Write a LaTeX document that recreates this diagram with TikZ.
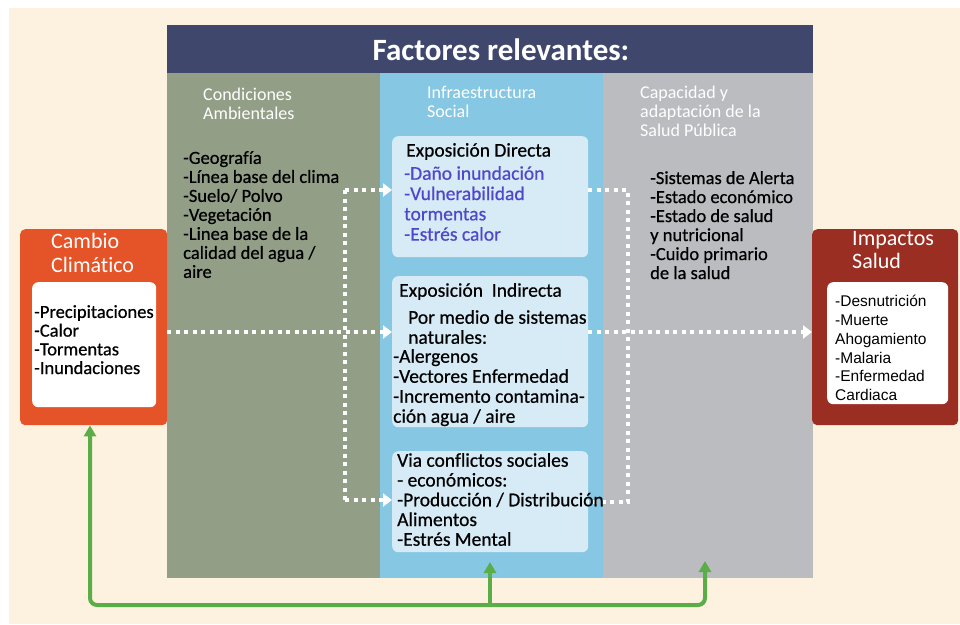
\documentclass[tikz,border=0pt]{standalone}
\usepackage{fontspec}
\setmainfont{Carlito}[Ligatures=NoCommon]
\newfontfamily\bodyf{Carlito}[Ligatures=NoCommon, FakeBold=0.6]
\newfontfamily\arialf{Liberation Sans}
\usetikzlibrary{arrows.meta}
\definecolor{cream}{HTML}{FDF1DF}
\definecolor{navy}{HTML}{3F476D}
\definecolor{colgreen}{HTML}{939E87}
\definecolor{colblue}{HTML}{86C7E3}
\definecolor{colgray}{HTML}{BBBCC0}
\definecolor{lightbox}{HTML}{D6EBF6}
\definecolor{ccorange}{HTML}{E55428}
\definecolor{impred}{HTML}{9A2E22}
\definecolor{arrgreen}{HTML}{5BAE47}
\definecolor{bluetext}{HTML}{4F46CC}
\tikzset{
  panel/.style={draw=none, inner sep=0pt, anchor=north west},
  txt/.style={anchor=north west, inner sep=0pt, align=left},
  listfont/.style={font=\bodyf\fontsize{18.5}{19}\selectfont},
  boxfont/.style={font=\bodyf\fontsize{19.5}{20}\selectfont},
  headfont/.style={font=\fontsize{18}{18.5}\selectfont},
  dotline/.style={white, line width=4pt, dash pattern=on 4pt off 4.5pt},
  dotarrow/.style={dotline, -{Triangle[length=9pt,width=13pt]}},
  gline/.style={arrgreen, line width=4pt},
  gtip/.tip={Triangle[length=11pt,width=12pt]}
}
\begin{document}
\begin{tikzpicture}[x=1pt,y=-1pt]
\useasboundingbox (0,0) rectangle (960,624);
\fill[white] (0,0) rectangle (960,624);
\fill[cream] (9,8) rectangle (960,624);

% columns
\node[panel, fill=colgreen, minimum width=213pt, minimum height=505pt] (col1) at (167,73) {};
\node[panel, fill=colblue, minimum width=223pt, minimum height=505pt] (col2) at (380,73) {};
\node[panel, fill=colgray, minimum width=210pt, minimum height=505pt] (col3) at (603,73) {};
\node[panel, fill=navy, minimum width=646pt, minimum height=48pt] (titlebar) at (167,25) {};
\node[white, font=\fontsize{31}{34}\selectfont\bfseries] (title) at (501,50) {Factores relevantes:};

% headers
\node[txt, white, headfont] (h1) at (203,88) {Condiciones\\Ambientales};
\node[txt, white, headfont] (h2) at (427,86) {Infraestructura\\Social};
\node[txt, white, font=\fontsize{18}{19}\selectfont] (h3) at (640,86) {Capacidad y\\adaptación de la\\Salud Pública};

% column lists
\node[txt, listfont] (l1) at (183,151) {-Geografía\\-Línea base del clima\\-Suelo/ Polvo\\-Vegetación\\-Linea base de la\\calidad del agua /\\aire};
\node[txt, listfont] (l3) at (650,171) {-Sistemas de Alerta\\-Estado económico\\-Estado de salud\\y nutricional\\-Cuido primario\\de la salud};

% junction points of the dotted connectors
\coordinate (jl) at (345,332);
\coordinate (jr) at (628,332);
\coordinate (lt) at (345,190);
\coordinate (lb) at (345,500);
\coordinate (rt) at (628,190);
\coordinate (rb) at (628,502);

% side boxes
\node[panel, fill=ccorange, rounded corners=5pt, minimum width=147pt, minimum height=196pt] (cc) at (20,229) {};
\node[panel, fill=white, rounded corners=6pt, minimum width=124pt, minimum height=125pt] (ccin) at (32,282) {};
\node[txt, white, font=\fontsize{22}{24}\selectfont] (cct) at (51,233) {Cambio\\Climático};
\node[txt, font=\bodyf\fontsize{18.5}{18.7}\selectfont] (ccl) at (34,305) {-Precipitaciones\\-Calor\\-Tormentas\\-Inundaciones};

\node[panel, fill=impred, rounded corners=5pt, minimum width=146pt, minimum height=196pt] (imp) at (812,229) {};
\node[panel, fill=white, rounded corners=6pt, minimum width=121pt, minimum height=122pt] (impin) at (827,282) {};
\node[txt, white, font=\fontsize{22}{23}\selectfont] (impt) at (852,231) {Impactos\\Salud};
\node[txt, font=\arialf\fontsize{15.5}{18.8}\selectfont] (impl) at (835,295) {-Desnutrición\\-Muerte\\Ahogamiento\\-Malaria\\-Enfermedad\\Cardiaca};

% centre boxes
\node[panel, fill=lightbox, rounded corners=6pt, minimum width=196pt, minimum height=121pt] (b1) at (392,136) {};
\node[panel, fill=lightbox, rounded corners=6pt, minimum width=196pt, minimum height=151pt] (b2) at (392,276) {};
\node[panel, fill=lightbox, rounded corners=6pt, minimum width=196pt, minimum height=101pt] (b3) at (392,451) {};

\draw[dotline] (lt) -- (lb);
\draw[dotarrow] (cc.east |- jl) -- (b2.west |- jl);
\draw[dotarrow] (lt) -- (b1.west |- lt);
\draw[dotarrow] (lb) -- (b3.west |- lb);
\draw[dotline] (b1.east |- rt) -- (rt) -- (rb) -- (b3.east |- rb);
\draw[dotarrow] (b2.east |- jr) -- (imp.west |- jr);

\node[txt, boxfont] (b1t) at (406,143) {Exposición Directa};
\node[txt, text=bluetext, font=\bodyf\fontsize{19.5}{20.3}\selectfont] (b1l) at (404,166) {-Daño inundación\\-Vulnerabilidad\\tormentas\\-Estrés calor};
\node[txt, boxfont] (b2t) at (399,283) {Exposición\ \ Indirecta};
\node[txt, boxfont] (b2s) at (408,310) {Por medio de sistemas\\naturales:};
\node[txt, boxfont] (b2l) at (393,349) {-Alergenos\\-Vectores Enfermedad\\-Incremento contamina-\\ción agua / aire};
\node[txt, font=\bodyf\fontsize{19.5}{19.75}\selectfont] (b3l) at (397,453) {Via conflictos sociales\\- económicos:\\-Producción / Distribución\\Alimentos\\-Estrés Mental};

% green feedback arrows
\coordinate (g1) at (90,605);
\coordinate (g2) at (490,605);
\coordinate (g3) at (705,605);
\coordinate (tipb) at (490,562);
\coordinate (tipc) at (705,561);
\draw[gline, rounded corners=7pt, gtip-gtip] (tipc) -- (g3) -- (g1) -- (cc.south -| g1);
\draw[gline, -gtip] (g2) -- (tipb);
\end{tikzpicture}
\end{document}
